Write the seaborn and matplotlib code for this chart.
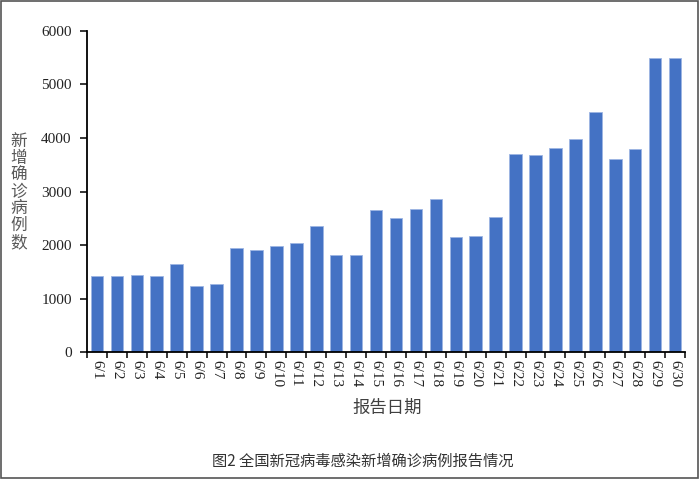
import matplotlib
matplotlib.use("Agg")
import matplotlib.pyplot as plt
import matplotlib.patches as mpatches
import pandas as pd
import seaborn as sns

DATES = [f"6/{d}" for d in range(1, 31)]
NEW_CASES = [
    1412, 1425, 1443, 1425, 1643, 1225, 1270, 1942, 1910, 1985,
    2035, 2358, 1817, 1804, 2657, 2502, 2670, 2857, 2159, 2172,
    2521, 3697, 3684, 3809, 3983, 4481, 3609, 3796, 5501, 5501,
]
Y_TICKS = [0, 1000, 2000, 3000, 4000, 5000, 6000]
Y_LABEL = "新增确诊病例数"
X_LABEL = "报告日期"
CAPTION = "图2 全国新冠病毒感染新增确诊病例报告情况"

BAR_COLOR = "#4472C4"
SERIF = "Liberation Serif"
CJK = ["Noto Sans CJK SC", "DejaVu Sans"]

sns.set_style("ticks")
plt.rcParams["font.family"] = "serif"
plt.rcParams["font.serif"] = [SERIF, "DejaVu Serif"]

df = pd.DataFrame({"date": DATES, "cases": NEW_CASES})

fig = plt.figure(figsize=(7.0, 4.79), dpi=100)
ax = fig.add_axes([0.1243, 0.2651, 0.8543, 0.6702])

sns.barplot(data=df, x="date", y="cases", order=DATES, color=BAR_COLOR,
            width=0.63, edgecolor="#9db5e3", linewidth=0.6, saturation=1, ax=ax)

ax.set_xlim(-0.5, len(DATES) - 0.5)
ax.set_ylim(0, 6000)
ax.set_yticks(Y_TICKS)
ax.set_yticklabels([str(v) for v in Y_TICKS], fontsize=11, color="#222222",
                   fontfamily=SERIF)

# labels at bar centres, tick marks at category boundaries
ax.set_xticks(range(len(DATES)))
ax.set_xticklabels(DATES, rotation=270, fontsize=11, color="#222222",
                   fontfamily=SERIF)
ax.tick_params(axis="x", which="major", length=0, pad=6)
ax.set_xticks([i - 0.5 for i in range(len(DATES) + 1)], minor=True)
ax.tick_params(axis="x", which="minor", length=4, width=1.1, direction="out", color="black")
ax.tick_params(axis="y", length=5, width=1.1, direction="out", color="black", pad=6)

for side in ["top", "right"]:
    ax.spines[side].set_visible(False)
for side in ["left", "bottom"]:
    ax.spines[side].set_linewidth(1.3)
    ax.spines[side].set_color("black")

ax.set_xlabel("")
ax.set_ylabel("")

fig.text(0.027, 0.599, "\n".join(Y_LABEL), family=CJK, fontsize=12,
         color="#595959", ha="center", va="center", linespacing=0.98)
fig.text(0.553, 0.148, X_LABEL, family=CJK, fontsize=12.5, color="#404040",
         ha="center", va="center")
fig.text(0.518, 0.037, CAPTION, family=CJK, fontsize=11, color="#333333",
         ha="center", va="center")

fig.patches.append(mpatches.Rectangle((0.001, 0.002), 0.996, 0.996, transform=fig.transFigure,
                                      fill=False, edgecolor="#555555", linewidth=1.2))

fig.savefig("out.png", dpi=100)
